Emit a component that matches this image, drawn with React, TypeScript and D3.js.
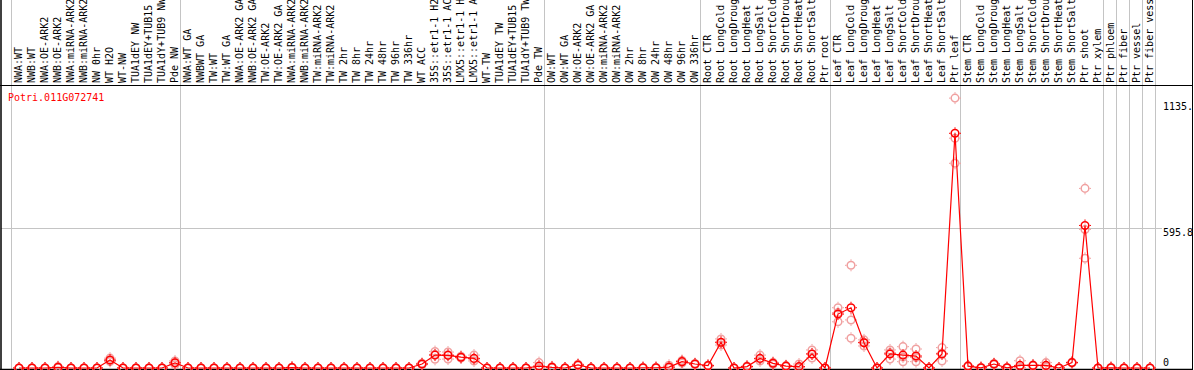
import React from "react";
import * as d3 from "d3";

const geneLabel = "Potri.011G072741";

const categories = [
  "NWA:WT", "NWB:WT", "NWA:OE-ARK2", "NWB:OE-ARK2", "NWA:miRNA-ARK2", "NWB:miRNA-ARK2",
  "NW 0hr", "WT H2O", "WT-NW", "TUA1dEY NW", "TUA1dEY+TUB15 NW", "TUA1dY+TUB9 NW", "Pde NW",
  "NWA:WT GA", "NWBWT GA", "TW:WT", "TW:WT GA", "NWA:OE-ARK2 GA", "NWB:OE-ARK2 GA",
  "TW:OE-ARK2", "TW:OE-ARK2 GA", "NWA:miRNA-ARK2", "NWB:miRNA-ARK2", "TW:miRNA-ARK2",
  "TW:miRNA-ARK2", "TW 2hr", "TW 8hr", "TW 24hr", "TW 48hr", "TW 96hr", "TW 336hr",
  "WT ACC", "35S::etr1-1 H2O", "35S::etr1-1 ACC", "LMX5::etr1-1 H2O", "LMX5::etr1-1 ACC",
  "WT-TW", "TUA1dEY TW", "TUA1dEY+TUB15 TW", "TUA1dY+TUB9 TW", "Pde TW",
  "OW:WT", "OW:WT GA", "OW:OE-ARK2", "OW:OE-ARK2 GA", "OW:miRNA-ARK2", "OW:miRNA-ARK2",
  "OW 2hr", "OW 8hr", "OW 24hr", "OW 48hr", "OW 96hr", "OW 336hr",
  "Root CTR", "Root LongCold", "Root LongDrought", "Root LongHeat", "Root LongSalt",
  "Root ShortCold", "Root ShortDrought", "Root ShortHeat", "Root ShortSalt", "Ptr root",
  "Leaf CTR", "Leaf LongCold", "Leaf LongDrought", "Leaf LongHeat", "Leaf LongSalt",
  "Leaf ShortCold", "Leaf ShortDrought", "Leaf ShortHeat", "Leaf ShortSalt", "Ptr leaf",
  "Stem CTR", "Stem LongCold", "Stem LongDrought", "Stem LongHeat", "Stem LongSalt",
  "Stem ShortCold", "Stem ShortDrought", "Stem ShortHeat", "Stem ShortSalt", "Ptr shoot",
  "Ptr xylem", "Ptr phloem", "Ptr fiber", "Ptr vessel", "Ptr fiber vessel",
];

// mean expression per category
const means = [
  0, 0, 0, 3, 0, 0, 0, 34, 0, 0, 0, 0, 22,
  0, 0, 0, 0, 0, 0, 0, 0, 2, 0, 0, 0, 0, 0, 0, 0, 0, 0,
  17, 55, 54, 46, 41, 0, 0, 0, 0, 8,
  3, 0, 13, 0, 0, 0, 0, 1, 1, 4, 27, 17,
  10, 110, 0, 6, 41, 20, 8, 6, 60, 0,
  230, 257, 108, 0, 60, 55, 51, 0, 60, 1001,
  8, 1, 17, 1, 11, 11, 11, 0, 23, 608,
  0, 1, 0, 0, 0,
];

// individual replicates
const rep1 = [
  0, 0, 0, 6, 0, 0, 0, 42, 0, 0, 0, 0, 30,
  0, 0, 0, 0, 0, 0, 0, 0, 3, 0, 0, 0, 0, 0, 0, 0, 0, 0,
  20, 70, 68, 50, 55, 0, 0, 0, 0, 23,
  5, 0, 16, 0, 0, 0, 0, 2, 2, 12, 32, 19,
  12, 124, 0, 8, 55, 24, 10, 17, 77, 0,
  257, 438, 120, 0, 77, 91, 81, 0, 87, 1151,
  10, 0, 19, 0, 31, 13, 23, 0, 25, 766,
  0, 2, 0, 0, 0,
];
const rep2 = [
  0, 0, 0, 2, 0, 0, 0, 32, 0, 0, 0, 0, 22,
  0, 0, 0, 0, 0, 0, 0, 0, 2, 0, 0, 0, 0, 0, 0, 0, 0, 0,
  17, 58, 56, 45, 38, 0, 0, 0, 0, 1,
  3, 0, 13, 0, 0, 0, 0, 1, 1, 0, 28, 17,
  10, 108, 0, 6, 38, 20, 8, 1, 60, 0,
  236, 205, 110, 0, 65, 47, 45, 0, 63, 980,
  8, 1, 17, 1, 2, 11, 6, 0, 23, 591,
  0, 1, 0, 0, 0,
];
const rep3 = [
  0, 0, 0, 1, 0, 0, 0, 28, 0, 0, 0, 0, 14,
  0, 0, 0, 0, 0, 0, 0, 0, 1, 0, 0, 0, 0, 0, 0, 0, 0, 0,
  14, 37, 38, 43, 30, 0, 0, 0, 0, 0,
  1, 0, 10, 0, 0, 0, 0, 0, 0, 0, 21, 15,
  8, 98, 0, 4, 30, 16, 6, 0, 43, 0,
  197, 127, 94, 0, 38, 27, 27, 0, 30, 873,
  6, 2, 15, 2, 0, 9, 4, 0, 21, 468,
  0, 0, 0, 0, 0,
];

// group separators (category index where a new group starts)
const groupStarts = [0, 13, 41, 53, 63, 73, 84, 85, 86, 87, 88];

const yMax = 1191.6;
const gridValues = [595.8];
const tickValues = [1135, 595.8, 0];
const tickLabels = ["1135.", "595.8", "0"];

const W = 1194;
const H = 370;
const FONT = "'DejaVu Sans Mono', 'Liberation Mono', monospace";
const RED = "#ff0000";
const PALE = "#f0a0a0";
const GRID = "#c4c4c4";

function Marker({ x, y, color }: { x: number; y: number; color: string }) {
  return (
    <g transform={`translate(${x},${y})`}>
      <circle r={3.8} fill="none" stroke={color} strokeWidth={1.5} />
      <path
        d="M0,-6V-4.5M0,4.5V6M-6,0H-4.5M4.5,0H6"
        stroke={color}
        strokeWidth={1}
        fill="none"
      />
    </g>
  );
}

export default function App() {
  const n = categories.length;
  const xb = d3
    .scaleBand<number>()
    .domain(d3.range(n))
    .range([11, 11 + 13 * n])
    .padding(0);
  const bandEnd = xb.range()[1];
  const px = (i: number) => (xb(i) as number) + 8;
  const sepX = (i: number) => (i < n ? (xb(i) as number) : bandEnd);

  const y = d3.scaleLinear().domain([0, yMax]).range([368, 88.6]);

  const line = d3
    .line<number>()
    .x((_, i) => px(i))
    .y((d) => y(d));

  const plotTop = 85;
  const plotBottom = 369;
  const rightEdge = 1192.5;

  const reps = [rep1, rep2, rep3];

  return (
    <div style={{ position: "fixed", left: 0, top: 0 }}>
      <svg width={W} height={H} style={{ display: "block", background: "#fff" }}>
        <rect x={0} y={0} width={W} height={H} fill="#fff" />
        {/* separators */}
        {groupStarts.map((g, k) => (
          <line
            key={"s" + k}
            x1={sepX(g) + 0.5}
            x2={sepX(g) + 0.5}
            y1={0}
            y2={plotBottom}
            stroke={GRID}
            strokeWidth={1}
          />
        ))}
        {/* horizontal grid */}
        {gridValues.map((v, k) => (
          <line
            key={"g" + k}
            x1={1}
            x2={1162}
            y1={Math.round(y(v)) + 0.5}
            y2={Math.round(y(v)) + 0.5}
            stroke={GRID}
            strokeWidth={1}
          />
        ))}
        {/* category labels */}
        {categories.map((c, i) => (
          <text
            key={"c" + i}
            transform={`translate(${px(i) - 0.5},83) rotate(-90)`}
            fontFamily={FONT}
            fontSize={10}
            dominantBaseline="central"
            fill="#000"
          >
            {c}
          </text>
        ))}
        {/* frame */}
        <line x1={0} x2={W} y1={plotTop + 0.5} y2={plotTop + 0.5} stroke="#000" strokeWidth={1} />
        <line x1={1} x2={1} y1={0} y2={H} stroke="#000" strokeWidth={1.5} />
        <line x1={rightEdge} x2={rightEdge} y1={0} y2={H} stroke="#000" strokeWidth={1} />
        <line x1={0} x2={W} y1={plotBottom + 0.5} y2={plotBottom + 0.5} stroke="#000" strokeWidth={1.5} />

        {/* gene label */}
        <text x={8} y={101} fontFamily={FONT} fontSize={10} fill={RED}>
          {geneLabel}
        </text>

        {/* y tick labels */}
        <g>
          {tickValues.map((v, k) => (
            <text
              key={"t" + k}
              x={1163}
              y={Math.min(y(v), 358) + 8}
              fontFamily={FONT}
              fontSize={10}
              fill="#000"
            >
              {tickLabels[k]}
            </text>
          ))}
        </g>

        {/* replicates */}
        {reps.map((r, k) =>
          r.map((v, i) => <Marker key={`r${k}-${i}`} x={px(i)} y={y(v)} color={PALE} />)
        )}
        {/* mean line */}
        <path d={line(means) || ""} fill="none" stroke={RED} strokeWidth={1.2} />
        {means.map((v, i) => (
          <Marker key={"m" + i} x={px(i)} y={y(v)} color={RED} />
        ))}
        {/* mask beyond right edge */}
        <rect x={rightEdge + 0.5} y={0} width={W - rightEdge} height={H} fill="#fff" />
      </svg>
    </div>
  );
}
